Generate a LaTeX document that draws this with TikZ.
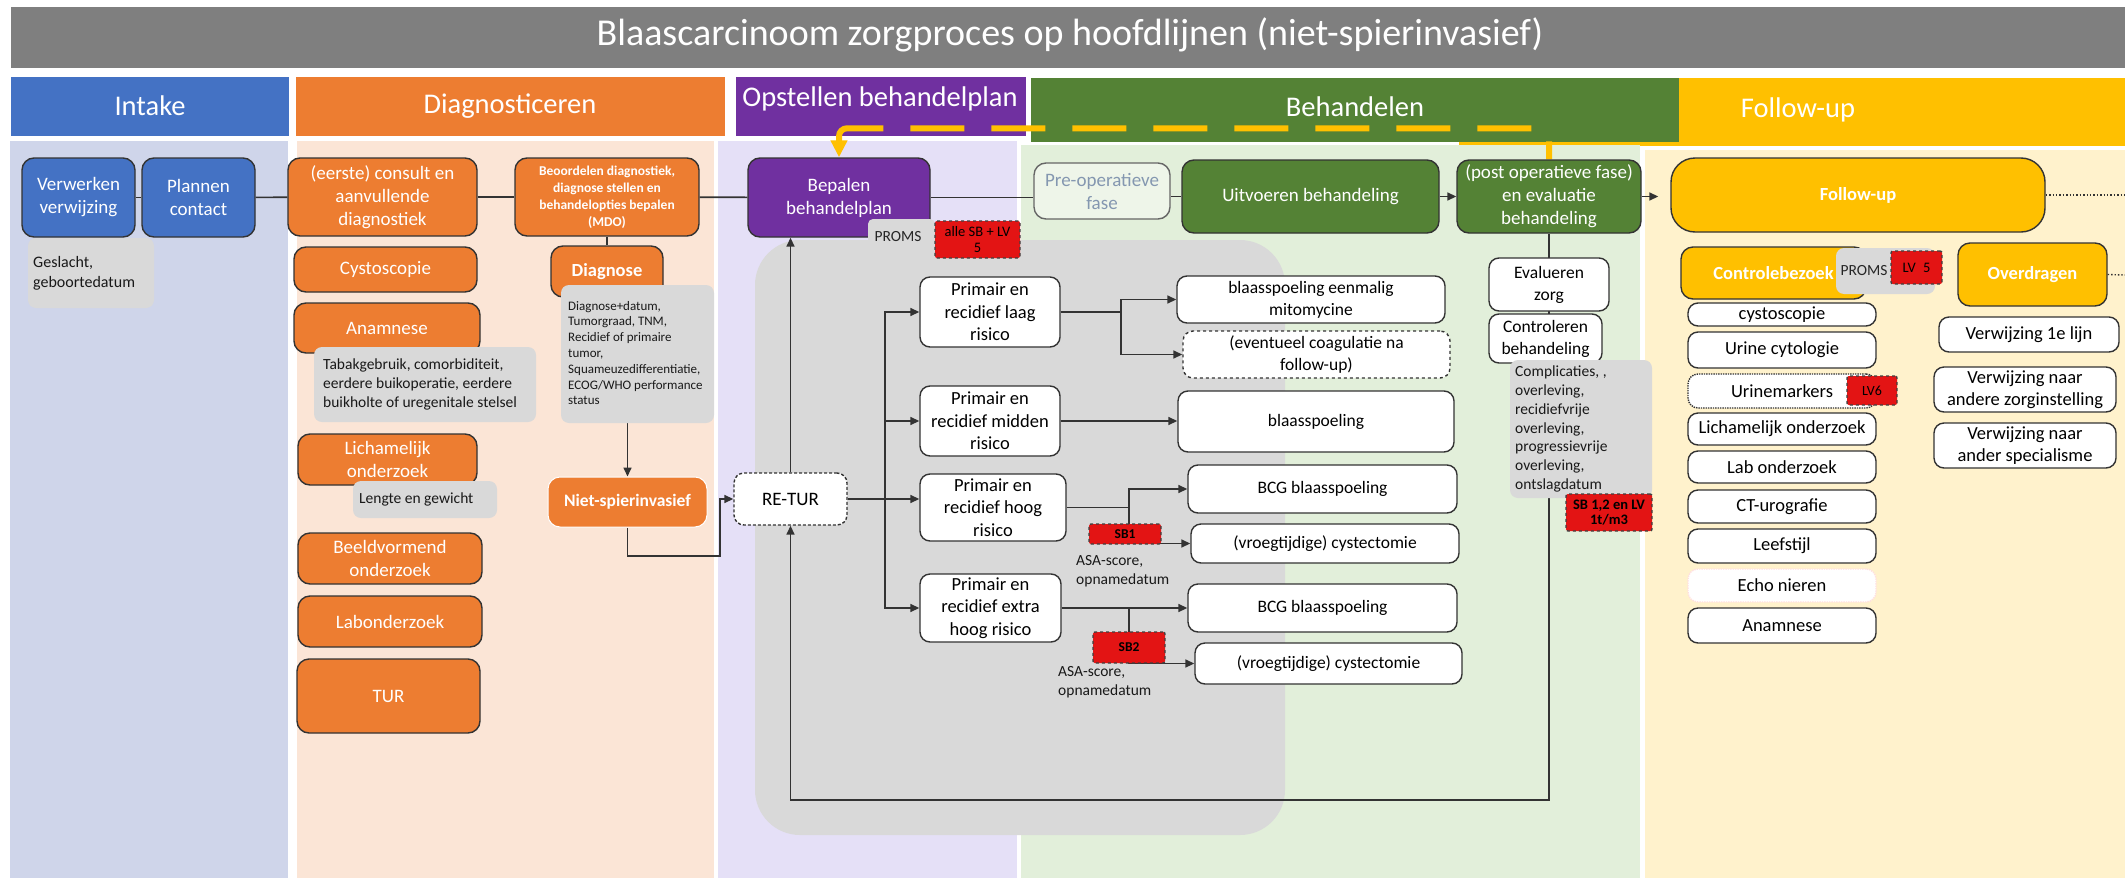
\documentclass[tikz,border=0pt]{standalone}
\usepackage{fontspec}
\setmainfont{Carlito}
\usetikzlibrary{arrows.meta}

\definecolor{ttlgray}{HTML}{7F7F7F}
\definecolor{hblue}{HTML}{4472C4}
\definecolor{horange}{HTML}{ED7D31}
\definecolor{hpurple}{HTML}{7030A0}
\definecolor{hgreen}{HTML}{548235}
\definecolor{hgold}{HTML}{FFC000}
\definecolor{lblue}{HTML}{CFD5EA}
\definecolor{lorange}{HTML}{FBE5D6}
\definecolor{lpurple}{HTML}{E5E0F7}
\definecolor{lgreen}{HTML}{E2EFDA}
\definecolor{lgold}{HTML}{FFF2CC}
\definecolor{notegray}{HTML}{D9D9D9}
\definecolor{tagred}{HTML}{E31414}
\definecolor{edge}{HTML}{333333}
\definecolor{preoptext}{HTML}{8497B0}

\pgfdeclarelayer{bg}
\pgfdeclarelayer{lines}
\pgfsetlayers{bg,lines,main}

\newcommand\fsz[2]{\fontsize{#1}{#2}\selectfont}
% box given by its corners (x1,y1) and (x2,y2)
\newcommand\placebox[7][]{\node[#1,minimum width={#5-#3},minimum height={#6-#4}] (#2) at ({(#3+#5)/2},{(#4+#6)/2}) {#7};}

\tikzset{
  box/.style={rounded corners=12pt, draw=edge, line width=1.4pt, inner sep=2pt, align=center, text=white, font=\fsz{19}{23}},
  obox/.style={box, fill=horange},
  bbox/.style={box, fill=hblue},
  pbox/.style={box, fill=hpurple},
  gbox/.style={box, fill=hgreen},
  ybox/.style={box, fill=hgold, font=\fsz{18.5}{23}\bfseries},
  wbox/.style={box, fill=white, text=black, rounded corners=10pt, font=\fsz{18.5}{22.5}},
  tbox/.style={wbox, font=\fsz{17.5}{22}},
  fbox/.style={wbox, font=\fsz{18.5}{21.5}},
  note/.style={fill=notegray, rounded corners=8pt},
  notetext/.style={align=left, anchor=west, inner sep=0pt, text=black!90, font=\fsz{15.5}{19}},
  tag/.style={draw=black!75, dashed, line width=1.4pt, fill=tagred, text=black, inner sep=1pt, align=center, font=\fsz{14.5}{15.5}, rounded corners=2pt},
  conn/.style={draw=edge, line width=1.6pt},
  arr/.style={-{Triangle[length=9pt,width=8pt]}},
  hdr/.style={text=white, font=\fsz{28.5}{32}},
  ylw/.style={draw=hgold, line width=6pt, rounded corners=8pt, dash pattern=on 54pt off 27pt},
}

\begin{document}
\begin{tikzpicture}[x=1pt,y=-1pt]
\useasboundingbox (0,0) rectangle (2125,878);

% ---------- title, phase headers and lanes ----------
\begin{pgfonlayer}{bg}
  \fill[white] (0,0) rectangle (2125,878);
  \fill[ttlgray] (11,7) rectangle (2125,68);
  \fill[hblue] (11,77) rectangle (289,136);
  \fill[horange] (296,77) rectangle (725,136);
  \fill[hpurple] (736,77) rectangle (1026,136);
  \fill[hgold] (1459,78) rectangle (2125,146);
  \fill[hgreen] (1031,78) rectangle (1679,142);
  \fill[lblue] (10,141) rectangle (288,878);
  \fill[lorange] (297,141) rectangle (714,878);
  \fill[lpurple] (718,141) rectangle (1017,878);
  \fill[lgreen] (1021,145) rectangle (1640,878);
  \fill[lgold] (1645,150) rectangle (2125,878);
  % group of the risk pathways
  \fill[notegray, rounded corners=45pt] (755,240) rectangle (1285,835);
\end{pgfonlayer}

\node[text=white, font=\fsz{38}{42}] (title) at (1070,35) {Blaascarcinoom zorgproces op hoofdlijnen (niet-spierinvasief)};
\node[hdr] (hIntake) at (150,106) {Intake};
\node[hdr] (hDiag) at (510,106) {Diagnosticeren};
\node[hdr] (hPlan) at (880,99) {Opstellen behandelplan};
\node[hdr] (hBeh) at (1355,107) {Behandelen};
\node[hdr] (hFollow) at (1798,110) {Follow-up};

% ---------- Intake ----------
\placebox[bbox]{verw}{22}{158}{135}{237}{Verwerken\\verwijzing}
\placebox[bbox]{plan}{142}{158}{255}{237}{Plannen\\contact}
\fill[note] (28,238) rectangle (154,308);
\node[notetext, font=\fsz{16}{20}] (gesl) at (33,273) {Geslacht,\\geboortedatum};

% ---------- Diagnosticeren ----------
\placebox[obox]{consult}{288}{158}{477}{236}{(eerste) consult en\\aanvullende\\diagnostiek}
\placebox[obox, font=\fsz{13.5}{17}\bfseries]{beoord}{515}{158}{699}{236}{Beoordelen diagnostiek,\\diagnose stellen en\\behandelopties bepalen\\(MDO)}
\placebox[obox]{cysto}{294}{247}{477}{292}{Cystoscopie}
\placebox[obox]{anam}{294}{303}{480}{353}{Anamnese}
\fill[note] (314,347) rectangle (536,422);
\node[notetext] (tabak) at (323,384) {Tabakgebruik, comorbiditeit,\\eerdere buikoperatie, eerdere\\buikholte of uregenitale stelsel};
\placebox[obox]{lich}{298}{434}{477}{485}{Lichamelijk\\onderzoek}
\fill[note] (353,481) rectangle (497,518);
\node[notetext] (lengte) at (359,499) {Lengte en gewicht};
\placebox[obox]{beeld}{298}{533}{482}{584}{Beeldvormend\\onderzoek}
\placebox[obox]{lab}{298}{596}{482}{647}{Labonderzoek}
\placebox[obox]{tur}{297}{659}{480}{733}{TUR}
\placebox[obox, font=\fsz{18.5}{23}\bfseries]{diag}{551}{246}{663}{297}{Diagnose}
\fill[note] (561,285) rectangle (714,423);
\node[notetext, font=\fsz{13}{15.8}] (dtext) at (568,353) {Diagnose+datum,\\Tumorgraad, TNM,\\Recidief of primaire\\tumor,\\Squameuzedifferentiatie,\\ECOG/WHO performance\\status};
\coordinate (dnb) at (627,423);
\placebox[obox, draw=white, line width=1pt, font=\fsz{17.5}{22}\bfseries]{niet}{548}{477}{707}{527}{Niet-spierinvasief}

% ---------- Opstellen behandelplan ----------
\placebox[pbox]{bep}{748}{158}{930}{237}{Bepalen\\behandelplan}
\fill[note, rounded corners=5pt] (868,219) rectangle (935,251);
\node[text=black!85, font=\fsz{15.5}{17}, inner sep=0pt] (promsA) at (898,237) {PROMS};
\placebox[tag]{tagA}{935}{221}{1020}{258}{alle SB + LV\\5}
\placebox[wbox, densely dashed, font=\fsz{19}{23}]{retur}{734}{473}{847}{525}{RE-TUR}
\placebox[wbox]{laag}{920}{277}{1060}{347}{Primair en\\recidief laag\\risico}
\placebox[wbox]{midden}{920}{386}{1060}{456}{Primair en\\recidief midden\\risico}
\placebox[wbox]{hoog}{920}{474}{1066}{541}{Primair en\\recidief hoog\\risico}
\placebox[wbox]{xhoog}{920}{574}{1061}{642}{Primair en\\recidief extra\\hoog risico}

% ---------- Behandelen ----------
\placebox[box, fill=lgreen!60!white, draw=gray!80!black, text=preoptext]{preop}{1034}{163}{1170}{219}{Pre-operatieve\\fase}
\placebox[gbox]{uitv}{1182}{160}{1439}{233}{Uitvoeren behandeling}
\placebox[gbox]{post}{1457}{160}{1641}{233}{(post operatieve fase)\\en evaluatie\\behandeling}
\placebox[tbox]{mito}{1177}{276}{1445}{323}{blaasspoeling eenmalig\\mitomycine}
\placebox[tbox, dashed]{coag}{1183}{331}{1450}{378}{(eventueel coagulatie na\\follow-up)}
\placebox[tbox]{blaas}{1178}{391}{1454}{452}{blaasspoeling}
\placebox[tbox]{bcgA}{1188}{465}{1457}{513}{BCG blaasspoeling}
\placebox[tbox]{cystA}{1191}{524}{1459}{563}{(vroegtijdige) cystectomie}
\placebox[tbox]{bcgB}{1188}{584}{1457}{632}{BCG blaasspoeling}
\placebox[tbox]{cystB}{1195}{643}{1462}{684}{(vroegtijdige) cystectomie}
\placebox[tag, font=\fsz{13.5}{15}\bfseries]{sbA}{1089}{524}{1161}{544}{SB1}
\placebox[tag, font=\fsz{13.5}{15}\bfseries]{sbB}{1093}{632}{1165}{663}{SB2}
\node[notetext] (asaA) at (1076,571) {ASA-score,\\opnamedatum};
\node[notetext] (asaB) at (1058,682) {ASA-score,\\opnamedatum};
\placebox[tbox]{evz}{1489}{258}{1609}{311}{Evalueren\\zorg}
\placebox[tbox]{ctrl}{1489}{314}{1602}{363}{Controleren\\behandeling}
\fill[note] (1510,360) rectangle (1652,498);
\node[notetext, font=\fsz{15.5}{18.7}] (compl) at (1515,429) {Complicaties, ,\\overleving,\\recidiefvrije\\overleving,\\progressievrije\\overleving,\\ontslagdatum};
\placebox[tag, font=\fsz{14.5}{15.5}\bfseries]{tagC}{1566}{494}{1652}{531}{SB 1,2 en LV\\1t/m3}

% ---------- Follow-up ----------
\placebox[ybox, rounded corners=24pt]{fu}{1671}{158}{2045}{232}{Follow-up}
\placebox[ybox]{ctrlb}{1681}{247}{1866}{299}{Controlebezoek}
\fill[note, rounded corners=8pt] (1836,248) rectangle (1935,294);
\node[text=black!85, font=\fsz{15.5}{17}, inner sep=0pt] (promsB) at (1864,271) {PROMS};
\placebox[tag]{tagB}{1891}{251}{1942}{284}{LV\enspace 5}
\placebox[ybox]{overd}{1958}{243}{2107}{306}{Overdragen}
\placebox[fbox]{fcys}{1688}{303}{1876}{326}{cystoscopie}
\placebox[fbox]{furi}{1688}{332}{1876}{368}{Urine cytologie}
\placebox[fbox, densely dotted]{fmark}{1688}{374}{1876}{408}{Urinemarkers}
\placebox[tag, font=\fsz{14}{15}]{tagD}{1847}{376}{1897}{405}{LV6}
\placebox[fbox]{flich}{1688}{413}{1876}{445}{Lichamelijk onderzoek}
\placebox[fbox]{flab}{1688}{451}{1876}{483}{Lab onderzoek}
\placebox[fbox]{fct}{1688}{490}{1876}{523}{CT-urografie}
\placebox[fbox]{fleef}{1688}{529}{1876}{563}{Leefstijl}
\placebox[fbox, draw=red!12, densely dotted]{fecho}{1688}{569}{1876}{602}{Echo nieren}
\placebox[fbox]{fanam}{1688}{608}{1876}{643}{Anamnese}
\placebox[fbox]{vA}{1939}{317}{2119}{352}{Verwijzing 1e lijn}
\placebox[fbox]{vB}{1934}{367}{2116}{412}{Verwijzing naar\\andere zorginstelling}
\placebox[fbox]{vC}{1934}{423}{2116}{468}{Verwijzing naar\\ander specialisme}

% ---------- connectors ----------
\coordinate (br) at (885,499);
\coordinate (nsj) at (720,556);
\coordinate (loopR) at (1549,800);
\coordinate (fuEnd) at (2125,195);
\coordinate (ovEnd) at (2125,275);
\path (laag.east) ++(60,0) coordinate (bl);
\path (hoog.east) ++(62,0) coordinate (bh);
\path (xhoog.east) ++(67,0) coordinate (bx);
\path (bep.north) ++(0,-29) coordinate (yL);
\path (post.north) ++(0,-31) coordinate (yR);

\begin{pgfonlayer}{lines}
  % main process line
  \draw[conn] (verw) -- (plan);
  \draw[conn] (plan) -- (consult);
  \draw[conn] (consult) -- (beoord);
  \draw[conn] (beoord) -- (bep);
  \draw[conn] (bep.east) -- (bep.east -| preop.west);
  \draw[conn] (preop.east |- uitv.west) -- (uitv.west);
  \draw[conn, arr] (uitv) -- (post);
  \draw[conn, arr, shorten >=12pt] (post.east) -- (post.east -| fu.west);
  \draw[edge, line width=1.4pt, dotted] (fu.east) -- (fuEnd);
  \draw[edge, line width=1.4pt, dotted] (overd.east) -- (ovEnd);
  % diagnosis branch
  \draw[conn] (beoord.south) -- (diag.north);
  \draw[conn, arr] (niet.north |- dnb) -- (niet.north);
  \draw[conn, arr] (niet.south) |- (nsj) |- (retur.west);
  % re-TUR and risk groups
  \draw[conn, arr] (retur.north) -- (retur.north |- bep.south);
  \draw[conn] (retur.east) -- (br);
  \draw[conn, arr] (br) |- (laag.west);
  \draw[conn, arr] (br) |- (midden.west);
  \draw[conn, arr] (br) -- (br -| hoog.west);
  \draw[conn, arr] (br) |- (xhoog.west);
  \draw[conn] (laag.east) -- (bl);
  \draw[conn, arr] (bl) |- (mito.west);
  \draw[conn, arr] (bl) |- (coag.west);
  \draw[conn, arr] (midden.east) -- (midden.east -| blaas.west);
  \draw[conn] (hoog.east) -- (bh);
  \draw[conn, arr] (bh) |- (bcgA.west);
  \draw[conn, arr] (bh) |- (cystA.west);
  \draw[conn, arr] (xhoog.east) -- (xhoog.east -| bcgB.west);
  \draw[conn, arr] (bx) |- (cystB.west);
  % evaluation loop back to RE-TUR
  \draw[conn, arr] (post.south) -- (loopR) -| (retur.south);
  % yellow feedback line
  \draw[ylw, {Triangle[length=17pt,width=16pt]}-] (bep.north) -- (yL) -- (yR) -- (post.north);
\end{pgfonlayer}
\end{tikzpicture}
\end{document}
